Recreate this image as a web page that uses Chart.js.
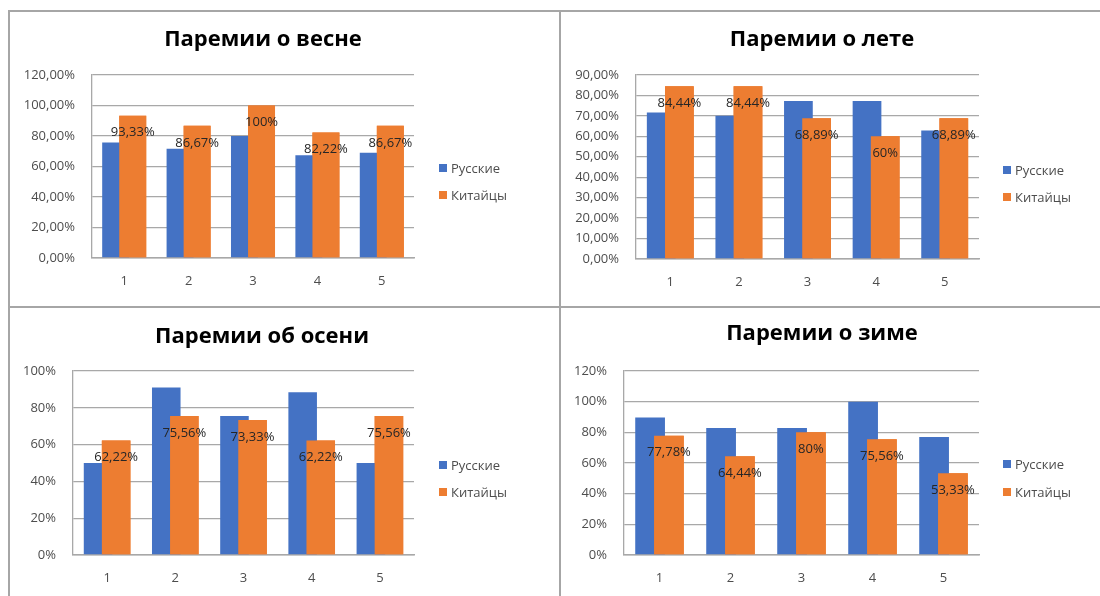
<!DOCTYPE html>
<html lang="ru">
<head>
<meta charset="utf-8">
<script src="https://cdn.jsdelivr.net/npm/chart.js@4.4.1/dist/chart.umd.min.js"></script>
<style>
html,body{margin:0;padding:0;background:#fff;}
body{width:1100px;height:596px;position:relative;overflow:hidden;font-family:'Open Sans',sans-serif;}
.panel{position:absolute;}
.rule{position:absolute;background:#a6a6a6;}
</style>
</head>
<body>
<div class="rule" style="left:8px;top:10px;width:1092px;height:2px"></div>
<div class="rule" style="left:8px;top:10px;width:2px;height:586px"></div>
<div class="rule" style="left:559px;top:10px;width:2px;height:586px"></div>
<div class="rule" style="left:8px;top:306px;width:1092px;height:2px"></div>

<div class="panel" style="left:10px;top:12px;width:549px;height:294px"><canvas id="spring"></canvas></div>
<div class="panel" style="left:561px;top:12px;width:539px;height:294px"><canvas id="summer"></canvas></div>
<div class="panel" style="left:10px;top:308px;width:549px;height:288px"><canvas id="autumn"></canvas></div>
<div class="panel" style="left:561px;top:308px;width:539px;height:288px"><canvas id="winter"></canvas></div>

<script>
/* data (percent) */
const categories  = ['1', '2', '3', '4', '5'];
const seriesNames = ['Русские', 'Китайцы'];

const springRu = [75.8, 71.6, 80, 67.4, 69];
const springCn = [93.33, 86.67, 100, 82.22, 86.67];
const summerRu = [71.6, 70.1, 77.3, 77.3, 62.8];
const summerCn = [84.44, 84.44, 68.89, 60, 68.89];
const autumnRu = [50, 91, 75.6, 88.5, 50];
const autumnCn = [62.22, 75.56, 73.33, 62.22, 75.56];
const winterRu = [89.6, 82.9, 82.9, 100, 77];
const winterCn = [77.78, 64.44, 80, 75.56, 53.33];

const springTicks = ['0,00%', '20,00%', '40,00%', '60,00%', '80,00%', '100,00%', '120,00%'];
const summerTicks = ['0,00%', '10,00%', '20,00%', '30,00%', '40,00%', '50,00%', '60,00%', '70,00%', '80,00%', '90,00%'];
const autumnTicks = ['0%', '20%', '40%', '60%', '80%', '100%'];
const winterTicks = ['0%', '20%', '40%', '60%', '80%', '100%', '120%'];

const COLORS = { ru: '#4472c4', cn: '#ed7d31', grid: '#a8a8a8', text: '#4d4d4d', label: '#262626' };
const FONT = "'Open Sans', sans-serif";

function pctLabel(v){ return String(+v.toFixed(2)).replace('.', ',') + '%'; }

/* title, legend, data labels; orange redrawn so it overlaps the blue bar */
const panelDecor = {
  id: 'panelDecor',
  afterDatasetsDraw(chart, args, o){
    const ctx = chart.ctx;
    const cn = chart.getDatasetMeta(1);
    cn.controller.draw();
    ctx.save();
    ctx.font = '13px ' + FONT;
    ctx.fillStyle = COLORS.label;
    ctx.textAlign = 'center';
    ctx.textBaseline = 'middle';
    cn.data.forEach((bar, i) => {
      ctx.fillText(pctLabel(chart.data.datasets[1].data[i]), bar.x, bar.y + 17);
    });
    ctx.restore();
  },
  afterDraw(chart, args, o){
    const ctx = chart.ctx;
    ctx.save();
    ctx.font = 'bold 22px ' + FONT;
    ctx.fillStyle = '#000';
    ctx.textAlign = 'center';
    ctx.textBaseline = 'middle';
    ctx.fillText(o.title, o.titleX, o.titleY);
    ctx.font = '13px ' + FONT;
    ctx.textAlign = 'left';
    chart.data.datasets.forEach((ds, i) => {
      const y = o.legendY + i * o.legendGap;
      ctx.fillStyle = ds.backgroundColor;
      ctx.fillRect(o.legendX, y - 4, 8, 8);
      ctx.fillStyle = COLORS.text;
      ctx.fillText(ds.label, o.legendX + 12, y + 1);
    });
    ctx.restore();
  }
};

function makePanel(id, ru, cn, tickLabels, step, lay){
  const el = document.getElementById(id);
  return new Chart(el, {
    type: 'bar',
    data: {
      labels: categories,
      datasets: [
        { label: seriesNames[0], data: ru, backgroundColor: COLORS.ru },
        { label: seriesNames[1], data: cn, backgroundColor: COLORS.cn },
      ]
    },
    options: {
      responsive: true, maintainAspectRatio: false, animation: false, events: [],
      categoryPercentage: 0.53, barPercentage: 1.58,
      layout: { padding: { left: 0, top: lay.top, right: lay.right, bottom: lay.bottom } },
      plugins: {
        legend: { display: false },
        tooltip: { enabled: false },
        panelDecor: lay.decor,
      },
      scales: {
        x: {
          grid: { display: false },
          border: { display: true, color: COLORS.grid, width: 1.5 },
          ticks: { font: { size: 13, family: FONT }, color: COLORS.text, padding: 7 },
          afterFit: s => { s.height = 35; },
        },
        y: {
          min: 0, max: step * (tickLabels.length - 1),
          grid: { color: COLORS.grid, lineWidth: 1.3, drawTicks: false },
          border: { display: true, color: COLORS.grid, width: 1.3 },
          ticks: { stepSize: step, font: { size: 13, family: FONT }, color: COLORS.text, padding: 17,
                   callback: (v, i) => tickLabels[i] },
          afterFit: s => { s.width = lay.left; },
        }
      }
    },
    plugins: [panelDecor]
  });
}

makePanel('spring', springRu, springCn, springTicks, 20, {
  left: 82, top: 63, right: 145, bottom: 13,
  decor: { title: 'Паремии о весне', titleX: 253, titleY: 28, legendX: 429, legendY: 156, legendGap: 27 }
});
makePanel('summer', summerRu, summerCn, summerTicks, 10, {
  left: 75, top: 63, right: 121, bottom: 12,
  decor: { title: 'Паремии о лете', titleX: 261, titleY: 28, legendX: 442, legendY: 158, legendGap: 27 }
});
makePanel('autumn', autumnRu, autumnCn, autumnTicks, 20, {
  left: 63, top: 63, right: 145, bottom: 6,
  decor: { title: 'Паремии об осени', titleX: 252, titleY: 29, legendX: 429, legendY: 157, legendGap: 27 }
});
makePanel('winter', winterRu, winterCn, winterTicks, 20, {
  left: 63, top: 63, right: 121, bottom: 6,
  decor: { title: 'Паремии о зиме', titleX: 261, titleY: 26, legendX: 442, legendY: 156, legendGap: 28 }
});
</script>
</body>
</html>
